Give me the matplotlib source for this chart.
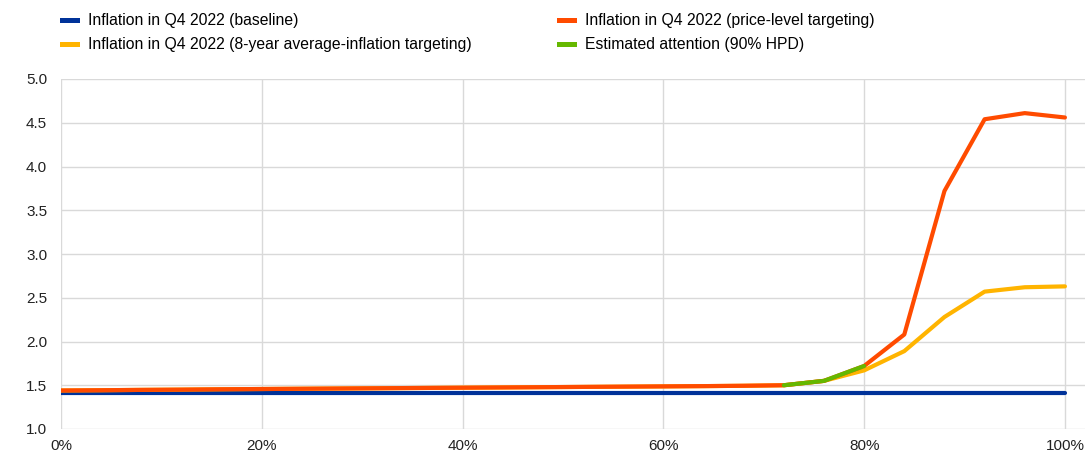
import matplotlib
matplotlib.use("Agg")
import matplotlib.pyplot as plt
from matplotlib.lines import Line2D

plt.rcParams["font.family"] = ["Liberation Sans", "DejaVu Sans"]

# degree of attention (%)
attention = [0, 4, 8, 12, 16, 20, 24, 28, 32, 36, 40, 44, 48, 52, 56, 60, 64, 68,
             72, 76, 80, 84, 88, 92, 96, 100]

baseline = [1.41] * 26
price_level = [1.440, 1.443, 1.447, 1.450, 1.454, 1.457, 1.460, 1.463, 1.466,
               1.469, 1.472, 1.475, 1.478, 1.481, 1.484, 1.487, 1.490, 1.494,
               1.500, 1.55, 1.72, 2.08, 3.72, 4.54, 4.61, 4.56]
avg_inflation = [1.440, 1.443, 1.447, 1.450, 1.454, 1.457, 1.460, 1.463, 1.466,
                 1.469, 1.472, 1.475, 1.478, 1.481, 1.484, 1.487, 1.490, 1.494,
                 1.500, 1.55, 1.67, 1.89, 2.28, 2.57, 2.62, 2.63]

hpd_x = [72, 76, 80]
hpd_y = [1.50, 1.55, 1.72]

labels = [
    "Inflation in Q4 2022 (baseline)",
    "Inflation in Q4 2022 (price-level targeting)",
    "Inflation in Q4 2022 (8-year average-inflation targeting)",
    "Estimated attention (90% HPD)",
]
BLUE, ORANGE, YELLOW, GREEN = "#003299", "#ff4b00", "#ffb400", "#65b800"

fig = plt.figure(figsize=(10.85, 4.57), dpi=100)
ax = fig.add_axes([61 / 1085, 1 - 429 / 457, 1 - 61 / 1085, (429 - 79) / 457])

lw = 3.0
ax.plot(attention, baseline, color=BLUE, lw=lw, solid_capstyle="round", zorder=3)
ax.plot(attention, avg_inflation, color=YELLOW, lw=lw, solid_capstyle="round", zorder=4)
ax.plot(attention, price_level, color=ORANGE, lw=lw, solid_capstyle="round", zorder=5)
ax.plot(hpd_x, hpd_y, color=GREEN, lw=lw, solid_capstyle="round", zorder=6)

ax.set_xlim(0, 102)
ax.set_ylim(1.0, 5.0)
ax.set_xticks([0, 20, 40, 60, 80, 100])
ax.set_xticklabels(["0%", "20%", "40%", "60%", "80%", "100%"])
ax.set_yticks([1.0, 1.5, 2.0, 2.5, 3.0, 3.5, 4.0, 4.5, 5.0])
ax.set_yticklabels(["1.0", "1.5", "2.0", "2.5", "3.0", "3.5", "4.0", "4.5", "5.0"])
ax.grid(True, color="#d9d9d9", lw=1)
ax.set_axisbelow(True)
for s in ax.spines.values():
    s.set_visible(False)
ax.tick_params(length=0, labelsize=11, colors="#222222")
ax.tick_params(axis="x", pad=7)
ax.tick_params(axis="y", pad=10)

colors = [BLUE, ORANGE, YELLOW, GREEN]
handles = [Line2D([], [], color=c, lw=3.6) for c in colors]

kw = dict(frameon=False, fontsize=11.3, handlelength=0.95, handletextpad=0.7,
          labelspacing=0.6, borderpad=0, borderaxespad=0, loc="upper left")
fig.legend([handles[0], handles[2]], [labels[0], labels[2]],
           bbox_to_anchor=(62 / 1085, 1 - 13 / 457), **kw)
fig.legend([handles[1], handles[3]], [labels[1], labels[3]],
           bbox_to_anchor=(559 / 1085, 1 - 13 / 457), **kw)

fig.savefig("out.png", dpi=100)
